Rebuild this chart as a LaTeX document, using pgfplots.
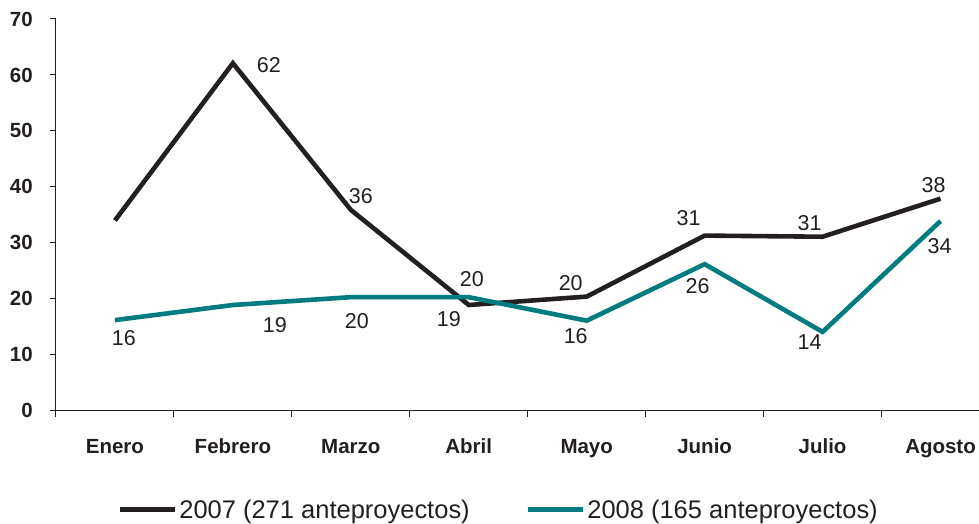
\documentclass[border=0pt]{standalone}
\usepackage{pgfplots}
\pgfplotsset{compat=1.18}
\usepackage{pgfplotstable}
\usepackage{fontspec}
\setmainfont{Liberation Sans}
\definecolor{c07}{RGB}{35,31,32}
\definecolor{c08}{RGB}{0,123,128}
\definecolor{axc}{RGB}{35,31,32}

\pgfplotstableread{
x y
0.5 34.0
1.5 62.1
2.5 35.9
3.5 18.9
4.5 20.4
5.5 31.3
6.5 31.1
7.5 37.9
}\dataA
\pgfplotstableread{
x y
0.5 16.2
1.5 18.9
2.5 20.3
3.5 20.3
4.5 16.1
5.5 26.2
6.5 14.1
7.5 33.9
}\dataB
\pgfplotstableread{
x y lbl dx dy
1.5 62.1 62 36 -2
2.5 35.9 36 10 14
3.5 18.9 19 -20 -14
4.5 20.4 20 -16 14
5.5 31.3 31 -16 18
6.5 31.1 31 -13 14
7.5 37.9 38 -7 14
}\labA
\pgfplotstableread{
x y lbl dx dy
0.5 16.2 16 9 -18
1.5 18.9 19 42 -20
2.5 20.3 20 6 -24
3.5 20.3 20 3 18
4.5 16.1 16 -11 -15
5.5 26.2 26 -7 -22
6.5 14.1 14 -13 -10
7.5 33.9 34 -1 -25
}\labB

\begin{document}
\begin{tikzpicture}
\begin{axis}[name=ax, scale only axis, width=923pt, height=392pt,
  xmin=0, xmax=7.822, ymin=0, ymax=70,
  axis x line=bottom, axis y line=left,
  axis line style={-, line width=1pt, color=axc},
  tick align=outside, major tick length=6pt, minor tick length=6pt,
  tick style={line width=1pt, color=axc},
  ytick={0,10,...,70},
  xtick={0.5,1.5,...,7.5},
  xticklabels={Enero,Febrero,Marzo,Abril,Mayo,Junio,Julio,Agosto},
  major x tick style={draw=none},
  minor xtick={0,1,...,7},
  x tick label style={font=\fontsize{20.5}{24}\selectfont\bfseries, text=axc, inner sep=0pt, anchor=base, yshift=-37pt},
  y tick label style={font=\fontsize{20.5}{24}\selectfont\bfseries, text=axc, inner sep=0pt, anchor=east, xshift=-17pt},
  /pgf/number format/assume math mode=true,
  legend style={draw=none, fill=none, at={(0.48,-0.2526)}, anchor=center, legend columns=2,
    font=\fontsize{25.5}{29}\selectfont, text=axc,
    /tikz/every even column/.append style={column sep=54pt}},
  legend image code/.code={\draw[#1] (0pt,0pt) -- (52pt,0pt); \path (52pt,0pt) -- (55pt,0pt);},
  clip=false,
]
\addplot[color=c07, line width=4.6pt, mark=none] table[x=x,y=y] {\dataA};
\addlegendentry{2007 (271 anteproyectos)}
\addplot[color=c08, line width=4.6pt, mark=none] table[x=x,y=y] {\dataB};
\addlegendentry{2008 (165 anteproyectos)}

\addplot[draw=none, mark=none, forget plot,
  point meta=explicit symbolic,
  visualization depends on={\thisrow{dx} \as \dx},
  visualization depends on={\thisrow{dy} \as \dy},
  nodes near coords,
  nodes near coords style={anchor=center, inner sep=0pt, text=c07, font=\fontsize{21.5}{24}\selectfont, xshift=\dx pt, yshift=\dy pt}]
  table[x=x,y=y,meta=lbl] {\labA};
\addplot[draw=none, mark=none, forget plot,
  point meta=explicit symbolic,
  visualization depends on={\thisrow{dx} \as \dx},
  visualization depends on={\thisrow{dy} \as \dy},
  nodes near coords,
  nodes near coords style={anchor=center, inner sep=0pt, text=c07, font=\fontsize{21.5}{24}\selectfont, xshift=\dx pt, yshift=\dy pt}]
  table[x=x,y=y,meta=lbl] {\labB};
\end{axis}
\path ([shift={(-56pt,-112pt)}]ax.south west) rectangle ++(979pt,523pt);
\end{tikzpicture}
\end{document}
